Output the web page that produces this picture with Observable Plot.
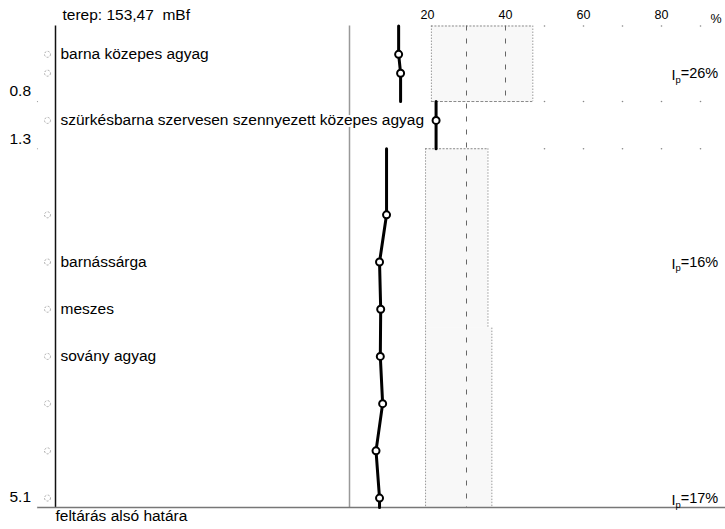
<!DOCTYPE html>
<html>
<head>
<meta charset="utf-8">
<script src="https://cdn.jsdelivr.net/npm/d3@7"></script>
<script src="https://cdn.jsdelivr.net/npm/@observablehq/plot@0.6"></script>
<style>
  html, body { margin: 0; padding: 0; background: white; overflow: hidden; }
  #chart { width: 725px; height: 529px; overflow: hidden; }
</style>
</head>
<body>
<div id="chart"></div>
<script>
// ---- data ----
const title = "terep: 153,47\u00a0\u00a0mBf";
const bottomNote = "feltárás alsó határa";

const layerTop = [0, 0.8, 1.3];
const layerBottom = [0.8, 1.3, 5.1];
const boundaryLabels = ["0.8", "1.3", "5.1"];

const sampleDepth = [0.3, 0.5, 1.0, 2.0, 2.5, 3.0, 3.5, 4.0, 4.5, 5.0];
const sampleLayer = [0, 0, 1, 2, 2, 2, 2, 2, 2, 2];
const waterContent = [12.6, 13.1, 22.2, 9.5, 7.7, 8.0, 7.9, 8.5, 6.8, 7.7];

const descDepth = [0.3, 1.0, 2.5, 3.0, 3.5];
const descText = [
  "barna közepes agyag",
  "szürkésbarna szervesen szennyezett közepes agyag",
  "barnássárga",
  "meszes",
  "sovány agyag"
];

// plasticity limits (wP) and liquid limits (wL), %
const limTop = [0, 1.3, 3.2];
const limBottom = [0.8, 3.2, 5.1];
const plasticLimit = [21, 19.5, 19.5];
const liquidLimit = [47, 35.5, 36.5];

const ipDepth = [0.5, 2.5, 5.0];
const ipText = ["Ip=26%", "Ip=16%", "Ip=17%"];

const xTicks = [20, 40, 60, 80];
const gridX = [50, 60, 70, 80, 90];
const gridDepth = [0, 0.8, 1.3];
const dashedLines = [{x: 30, top: 0, bottom: 5.1}, {x: 40, top: 0, bottom: 0.8}];

// ---- derived tables ----
const samples = sampleDepth.map((d, i) => ({depth: d, w: waterContent[i], layer: sampleLayer[i]}));
const wcLine = [];
layerTop.forEach((top, L) => {
  const s = samples.filter(d => d.layer === L);
  wcLine.push({depth: top, w: s[0].w, layer: L});
  s.forEach(d => wcLine.push(d));
  wcLine.push({depth: layerBottom[L], w: s[s.length - 1].w, layer: L});
});
const boundaries = layerBottom.map((d, i) => ({depth: d, label: boundaryLabels[i]}));
const limits = limTop.map((t, i) => ({top: t, bottom: limBottom[i], wP: plasticLimit[i], wL: liquidLimit[i]}));
const descs = descDepth.map((d, i) => ({depth: d, text: descText[i]}));
const ips = ipDepth.map((d, i) => ({depth: d, text: ipText[i]}));
const grid = gridDepth.flatMap(d => gridX.map(x => ({x, depth: d})));

const font = "'Liberation Sans', Arial, Helvetica, sans-serif";

const chart = Plot.plot({
  width: 725,
  height: 529,
  marginTop: 25.5,
  marginBottom: 22,
  marginLeft: 0,
  marginRight: 0,
  style: {fontFamily: font, fontSize: "15.5px", background: "white", color: "black", overflow: "hidden"},
  x: {domain: [0, 100], range: [349, 739], axis: null},
  y: {domain: [0, 5.1], range: [25.5, 507], axis: null},
  marks: [
    // Atterberg limit bands
    Plot.rect(limits, {x1: "wP", x2: "wL", y1: "top", y2: "bottom", fill: "#f8f8f8"}),
    Plot.ruleX(limits, {x: "wP", y1: "top", y2: "bottom", stroke: "#9a9a9a", strokeDasharray: "1.5,1.5"}),
    Plot.ruleX(limits, {x: "wL", y1: "top", y2: "bottom", stroke: "#9a9a9a", strokeDasharray: "1.5,1.5"}),
    Plot.ruleY(limits.slice(0, 2), {y: "top", x1: "wP", x2: "wL", stroke: "#8a8a8a", strokeDasharray: "2,1.5"}),
    Plot.ruleY(limits.slice(0, 1), {y: "bottom", x1: "wP", x2: "wL", stroke: "#8a8a8a", strokeDasharray: "3,1.5"}),
    Plot.ruleX(dashedLines, {x: "x", y1: "top", y2: "bottom", stroke: "#666", strokeDasharray: "5,8"}),
    Plot.dot(grid, {x: "x", y: "depth", r: 0.8, fill: "#888", stroke: null}),
    // frame lines
    Plot.ruleX([0], {y1: 0, y2: 5.1, stroke: "#999", strokeWidth: 1.5}),
    Plot.ruleX([0], {y1: 0, y2: 5.1, dx: -294, stroke: "#111", strokeWidth: 1.5}),
    Plot.ruleY([5.1], {insetLeft: 37, stroke: "#777", strokeWidth: 1.5}),
    // axis
    Plot.axisX({anchor: "top", ticks: xTicks, tickSize: 0, tickPadding: 7, fontSize: 12.5, label: null}),
    Plot.text(["%"], {frameAnchor: "top-right", dx: -4, dy: -12, fontSize: 12.5}),
    // title & note
    Plot.text([title], {frameAnchor: "top-left", dx: 62, dy: -17, textAnchor: "start"}),
    Plot.text([bottomNote], {frameAnchor: "bottom-left", dx: 55, dy: 13, textAnchor: "start"}),
    // depth labels and sample markers
    Plot.text(boundaries, {y: "depth", text: "label", frameAnchor: "left", dx: 9, dy: -10, textAnchor: "start"}),
    Plot.dot(boundaries, {y: "depth", frameAnchor: "left", dx: 37, r: 0.6, fill: "#999", stroke: null}),
    Plot.dot(samples, {y: "depth", frameAnchor: "left", dx: 47, r: 3, stroke: "#aaa", strokeWidth: 1, strokeDasharray: "2,1.5", fill: "none"}),
    // descriptions
    Plot.text(descs, {y: "depth", text: "text", frameAnchor: "left", dx: 60, textAnchor: "start", fill: "black", stroke: "white", strokeWidth: 4, paintOrder: "stroke"}),
    // water content profile
    Plot.line(wcLine, {x: "w", y: "depth", z: "layer", stroke: "black", strokeWidth: 3, curve: "linear"}),
    Plot.dot(samples, {x: "w", y: "depth", r: 3.5, fill: "white", stroke: "black", strokeWidth: 2}),
    // plasticity index labels
    Plot.text(ips, {y: "depth", text: "text", frameAnchor: "right", dx: -54, dy: 2, textAnchor: "start", fontSize: 14.5})
  ]
});

document.getElementById("chart").appendChild(chart);

// subscript p in "Ip"
d3.select(chart).selectAll("text").filter(function () {
  return this.textContent.startsWith("Ip=");
}).each(function () {
  const rest = this.textContent.slice(2);
  const t = d3.select(this).text(null);
  t.append("tspan").text("I");
  t.append("tspan").attr("font-size", "0.65em").attr("dy", "0.3em").text("p");
  t.append("tspan").attr("dy", "-0.3em").text(rest);
});
</script>
</body>
</html>
